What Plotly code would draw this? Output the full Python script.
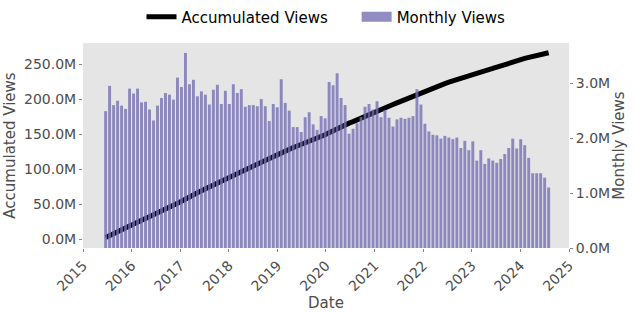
import numpy as np
import pandas as pd
import plotly.graph_objects as go

# Views per period (millions); bars are spaced ~30 days apart from mid-June 2015
periods = pd.date_range("2015-06-20", periods=112, freq="30D")
monthly_views_m = [
    2.49, 2.95, 2.60, 2.68, 2.59, 2.53, 2.90, 2.81, 2.90, 2.65, 2.66, 2.52,
    2.32, 2.59, 2.73, 2.82, 2.79, 2.70, 3.10, 2.93, 3.55, 2.98, 3.06, 2.76,
    2.85, 2.79, 2.61, 2.88, 2.97, 2.62, 2.86, 2.62, 2.98, 2.82, 2.89, 2.57,
    2.60, 2.60, 2.58, 2.71, 2.58, 2.31, 2.62, 2.56, 3.07, 2.64, 2.50, 2.20,
    2.20, 2.11, 2.38, 2.47, 2.25, 2.15, 2.40, 2.36, 3.02, 2.96, 3.18, 2.73,
    2.60, 2.08, 2.17, 2.27, 2.38, 2.57, 2.62, 2.52, 2.67, 2.38, 2.51, 2.37,
    2.21, 2.34, 2.37, 2.35, 2.37, 2.40, 2.89, 2.61, 2.26, 2.12, 2.06, 2.05,
    1.99, 2.04, 2.01, 1.98, 2.01, 1.82, 1.95, 1.78, 1.94, 1.59, 1.78, 1.53,
    1.63, 1.59, 1.55, 1.62, 1.71, 1.82, 1.99, 1.81, 1.98, 1.87, 1.64, 1.36,
    1.36, 1.36, 1.28, 1.10,
]
monthly_views = np.array(monthly_views_m) * 1e6
accumulated_views = np.cumsum(monthly_views)

left_tickvals = [0, 50e6, 100e6, 150e6, 200e6, 250e6]
left_ticktext = ["0.0M", "50.0M", "100.0M", "150.0M", "200.0M", "250.0M"]
right_tickvals = [0, 1e6, 2e6, 3e6]
right_ticktext = ["0.0M", "1.0M", "2.0M", "3.0M"]
year_ticks = [f"{y}-01-01" for y in range(2015, 2026)]
year_labels = [str(y) for y in range(2015, 2026)]

FONT = "DejaVu Sans"
GRAY = "#4d4d4d"
BAR_COLOR = "rgba(117,112,179,0.8)"
GAP = "\u00a0" * 5

fig = go.Figure()
fig.add_trace(go.Scatter(
    x=periods, y=accumulated_views, mode="lines", name="Accumulated Views" + GAP,
    line=dict(color="black", width=5), yaxis="y",
))
fig.add_trace(go.Bar(
    x=periods, y=monthly_views, name="Monthly Views", yaxis="y2", showlegend=False,
    width=22 * 86400000, marker=dict(color=BAR_COLOR, line=dict(width=0)),
))
# legend proxy drawn as a wide patch like the reference legend
fig.add_trace(go.Scatter(
    x=[None], y=[None], mode="lines", name="Monthly Views", yaxis="y2",
    line=dict(color=BAR_COLOR, width=11),
))

fig.update_layout(
    width=634, height=313,
    margin=dict(l=83, r=65, t=43, b=65, autoexpand=False),
    paper_bgcolor="white", plot_bgcolor="#e5e5e5",
    font=dict(family=FONT, size=14, color=GRAY),
    showlegend=True,
    legend=dict(orientation="h", x=0.5, xanchor="center", y=1 - 17 / 313, yanchor="middle",
                yref="container", font=dict(size=15, color="black"),
                bgcolor="rgba(0,0,0,0)", itemwidth=30),
    xaxis=dict(type="date", range=["2015-01-01", "2025-01-01"], automargin=False,
               tickvals=year_ticks, ticktext=year_labels, tickangle=-45,
               showgrid=False, zeroline=False, ticks="outside", ticklen=3,
               tickcolor="#888", title=dict(text="Date", font=dict(size=15, color=GRAY), standoff=1)),
    yaxis=dict(range=[-12.4e6, 280.4e6], tickvals=left_tickvals, ticktext=left_ticktext,
               automargin=False,
               showgrid=False, zeroline=False, ticks="outside", ticklen=3, tickcolor="#888",
               title=dict(text="Accumulated Views", font=dict(size=15, color=GRAY), standoff=4)),
    yaxis2=dict(range=[0, 3.73e6], overlaying="y", side="right", automargin=False,
                tickvals=right_tickvals, ticktext=right_ticktext,
                showgrid=False, zeroline=False, ticks="outside", ticklen=3, tickcolor="#888",
                title=dict(text="Monthly Views", font=dict(size=15, color=GRAY), standoff=2)),
    bargap=0.2,
)

fig.write_html("out.html", config={"displayModeBar": False},
               post_script="document.body.style.margin='0px';")
